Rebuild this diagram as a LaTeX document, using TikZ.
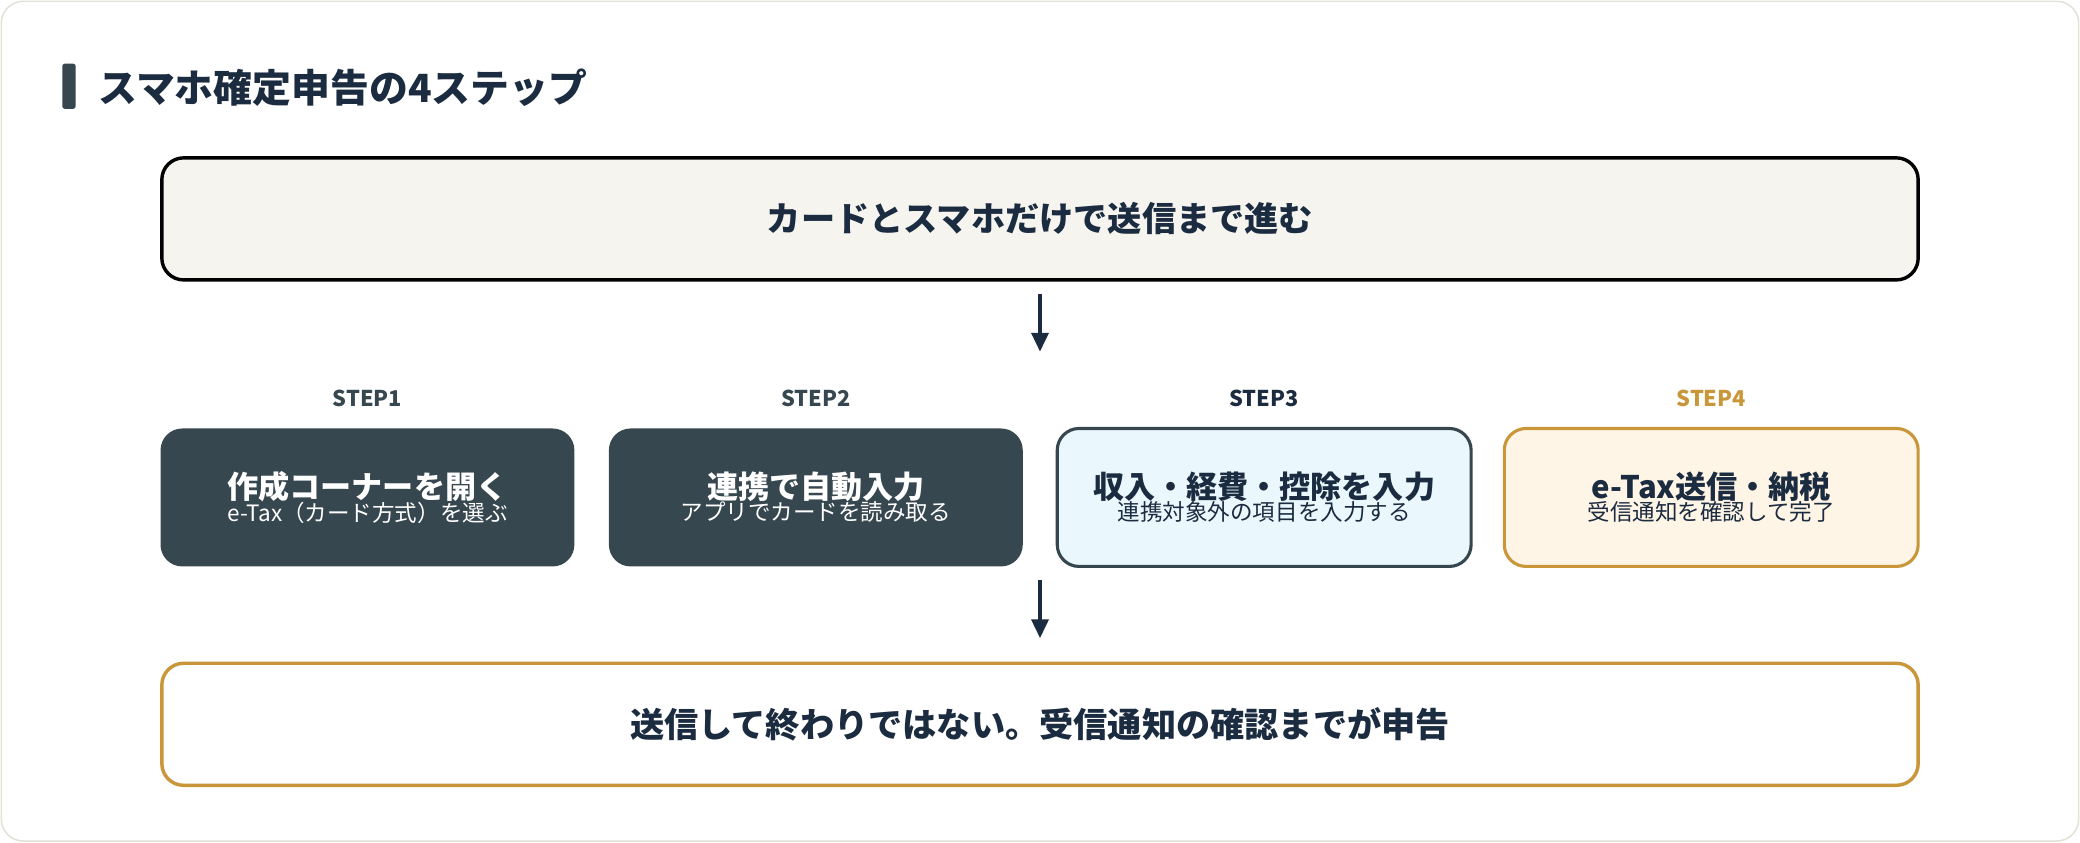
\documentclass[tikz,border=0pt]{standalone}
\usepackage{fontspec}
\setmainfont{Noto Sans CJK JP}
\usetikzlibrary{arrows.meta}
\definecolor{navy}{HTML}{1B2B40}
\definecolor{slate}{HTML}{37474F}
\definecolor{gold}{HTML}{C9973A}
\definecolor{beige}{HTML}{F5F4EF}
\definecolor{ice}{HTML}{EAF7FC}
\definecolor{cream}{HTML}{FFF5E6}
\definecolor{frame}{HTML}{E4E2D6}
\begin{document}
\begin{tikzpicture}[x=0.03cm,y=-0.03cm,
  big/.style={draw, line width=2.2pt, rounded corners=14pt, minimum width=1324*0.03cm, minimum height=92*0.03cm, font=\fontsize{22}{26}\selectfont\bfseries, text=navy},
  stepbox/.style={rounded corners=14pt, minimum width=312*0.03cm, minimum height=104*0.03cm, align=center, line width=2pt},
  lab/.style={font=\fontsize{14}{16}\selectfont\bfseries, text=slate},
  arr/.style={-{Triangle[length=12pt,width=11pt]}, line width=2pt, draw=navy}]
\useasboundingbox (0,0) rectangle (1568,635);
\draw[frame, fill=white, line width=1pt, rounded corners=14pt] (1,1) rectangle (1567,634);
\fill[slate, rounded corners=1.5pt] (47,48) rectangle (57,82);
\node[anchor=west, font=\fontsize{25}{30}\selectfont\bfseries, text=navy] (title) at (70,66) {スマホ確定申告の4ステップ};
\node[big, fill=beige] (top) at (784,165) {カードとスマホだけで送信まで進む};
\node[big, fill=white, draw=gold] (bot) at (784,546) {送信して終わりではない。受信通知の確認までが申告};
\node[lab] (l1) at (277,300) {STEP1};
\node[lab] (l2) at (615,300) {STEP2};
\node[lab, text=navy] (l3) at (953,300) {STEP3};
\node[lab, text=gold] (l4) at (1290,300) {STEP4};
\newcommand{\stxt}[2]{{\fontsize{20}{26}\selectfont\bfseries #1}\\[-1pt]{\fontsize{14.5}{18}\selectfont #2}}
\node[stepbox, fill=slate, text=white] (s1) at (277,375) {\stxt{作成コーナーを開く}{e-Tax（カード方式）を選ぶ}};
\node[stepbox, fill=slate, text=white] (s2) at (615,375) {\stxt{連携で自動入力}{アプリでカードを読み取る}};
\node[stepbox, fill=ice, draw=slate, text=navy] (s3) at (953,375) {\stxt{収入・経費・控除を入力}{連携対象外の項目を入力する}};
\node[stepbox, fill=cream, draw=gold, text=navy] (s4) at (1290,375) {\stxt{e-Tax送信・納税}{受信通知を確認して完了}};
\coordinate (a1) at (784,222); \coordinate (a2) at (784,265);
\coordinate (b1) at (784,437); \coordinate (b2) at (784,481);
\draw[arr] (a1) -- (a2);
\draw[arr] (b1) -- (b2);
\end{tikzpicture}
\end{document}
